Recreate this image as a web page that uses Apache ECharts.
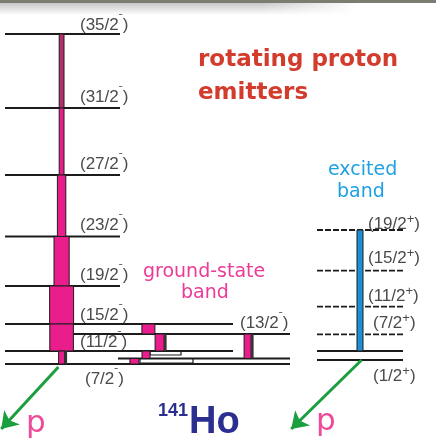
<!DOCTYPE html>
<html>
<head>
<meta charset="utf-8">
<script src="https://cdn.jsdelivr.net/npm/echarts@6/dist/echarts.min.js"></script>
<style>
html, body { margin: 0; padding: 0; background: #fff; }
#chart { width: 436px; height: 445px; }
</style>
</head>
<body>
<div id="chart"></div>
<script>
// ---- Level scheme of 141Ho (energies in keV above the 7/2- state) ----
// ground-state band, from the top down
const gsSpins  = ['35/2', '31/2', '27/2', '23/2', '19/2', '15/2', '11/2', '7/2'];
const gsEnergy = [3300, 2560, 1890, 1275, 780, 400, 130, 0];
// relative gamma intensity of each in-band step (upper level -> next level)
const gsIntensity = [1.2, 1.2, 2.1, 3.8, 6.0, 5.9, 1.5];

// side levels feeding into the band bottom
const sideSpins  = ['13/2', '9/2'];
const sideEnergy = [300, 55];
// side transitions: [from energy, to energy, intensity]
const sideFrom = [400, 300, 130, 55, 300];
const sideTo   = [300, 130, 55, 0, 55];
const sideIntensity = [3.25, 2.25, 2.0, 2.25, 1.75];

// excited band (positive parity)
const exSpins  = ['19/2', '15/2', '11/2', '7/2', '', '1/2'];
const exEnergy = [1340, 933, 573, 297, 130, 40];
const exIntensity = 1.5;

// ---- drawing layout (axis units: x 0..109, energy in keV) ----
const gsSpan = [[1.25, 30], [1.25, 30], [1.25, 30], [1.25, 30], [1.25, 30], [1.25, 58.25], [1.25, 58.25], [1.25, 72.5]];
const sideSpan = [[18, 72.5], [29.5, 72.5]];
const exSpan = [79.25, 100.75];
const gsBarX = 15.4;
const sideBarX = [37.1, 39.9, 36.5, 33.6, 61.9];
const exBarX = 90;
// thin shelves drawn under the lowest levels
const shelves = [[37.5, 45.25, 130, 90], [35, 48.25, 55, 10]];
// label anchors [x, energy]
const gsLabelPos = [[20, 3400], [20, 2680], [20, 2015], [20, 1400], [20, 900], [20, 505], [20, 230], [21.25, -135]];
const sideLabelPos = [[60, 420]];
const exLabelPos = [[92, 1410], [92, 1070], [92, 690], [93.25, 420], null, [93.25, -110]];
// proton decay arrows [[x, E] start, [x, E] end]
const protonDecays = [[[14.6, -30], [0.3, -650]], [[90.4, 40], [72.8, -650]]];

const MAGENTA = '#e91e8c', MAGENTA_DARK = '#b3306c', BLUE = '#1c8fd6', INK = '#1c1c1c';

// level lines
const levelData = [];
gsEnergy.forEach((e, i) => levelData.push([gsSpan[i][0], gsSpan[i][1], e, 0]));
sideEnergy.forEach((e, i) => levelData.push([sideSpan[i][0], sideSpan[i][1], e, 0]));
exEnergy.forEach((e, i) => levelData.push([exSpan[0], exSpan[1], e, exSpins[i] && i < 4 ? 1 : 0]));

// transitions: [xCenter, width, Etop, Ebottom, colourIndex, shaded]
const transData = [];
for (let i = 0; i < gsIntensity.length; i++) {
  transData.push([gsBarX, gsIntensity[i], gsEnergy[i], gsEnergy[i + 1], i === 0 ? 1 : 0, i === 6 ? 1 : 0]);
}
for (let i = 0; i < sideFrom.length; i++) {
  transData.push([sideBarX[i], sideIntensity[i], sideFrom[i], sideTo[i], 0, (i === 1 || i === 4) ? 1 : 0]);
}
transData.push([exBarX, exIntensity, exEnergy[0], exEnergy[4], 2, 0]);
const barColours = [MAGENTA, MAGENTA_DARK, BLUE];

// spin/parity labels: [x, E, text, parity]
const labelData = [];
gsSpins.forEach((s, i) => labelData.push([gsLabelPos[i][0], gsLabelPos[i][1], s, '-']));
labelData.push([sideLabelPos[0][0], sideLabelPos[0][1], sideSpins[0], '-']);
exSpins.forEach((s, i) => { if (s) labelData.push([exLabelPos[i][0], exLabelPos[i][1], s, '+']); });

const chart = echarts.init(document.getElementById('chart'), null, { renderer: 'canvas' });

const labelFont = '"Liberation Sans", Arial, sans-serif';
const comic = '"Comic Sans MS", "DejaVu Sans", sans-serif';

chart.setOption({
  animation: false,
  backgroundColor: '#fff',
  grid: { left: 0, right: 0, top: 0, bottom: 0 },
  xAxis: { type: 'value', min: 0, max: 109, show: false },
  yAxis: { type: 'value', min: -810, max: 3640, show: false },
  graphic: [
    // window edge with a soft shadow
    { type: 'rect', left: 0, top: 0, shape: { width: 436, height: 3 }, style: { fill: '#7a7d72' }, z: 10 },
    { type: 'rect', left: 0, top: 3, shape: { width: 436, height: 12 },
      style: { fill: new echarts.graphic.LinearGradient(0, 0, 0, 1, [
        { offset: 0, color: 'rgba(0,0,0,0.22)' }, { offset: 1, color: 'rgba(0,0,0,0)' }]) }, z: 10 },
    { type: 'rect', left: 0, top: 3, shape: { width: 436, height: 12 },
      style: { fill: new echarts.graphic.LinearGradient(0, 0, 1, 0, [
        { offset: 0, color: 'rgba(255,255,255,0)' }, { offset: 0.6, color: 'rgba(255,255,255,0)' },
        { offset: 0.82, color: 'rgba(255,255,255,1)' }, { offset: 1, color: 'rgba(255,255,255,1)' }]) }, z: 11 },
    { type: 'text', left: 198, top: 49, style: { text: 'rotating proton', font: 'bold 23px ' + comic, fill: '#d33b2c' } },
    { type: 'text', left: 198, top: 82, style: { text: 'emitters', font: 'bold 23px ' + comic, fill: '#d33b2c' } },
    { type: 'text', left: 143, top: 263, style: { text: 'ground-state', font: '19px ' + comic, fill: '#ec3a96' } },
    { type: 'text', left: 181, top: 284, style: { text: 'band', font: '19px ' + comic, fill: '#ec3a96' } },
    { type: 'text', left: 328, top: 161, style: { text: 'excited', font: '19px ' + comic, fill: '#1fa0e0' } },
    { type: 'text', left: 337, top: 183, style: { text: 'band', font: '19px ' + comic, fill: '#1fa0e0' } },
    { type: 'text', left: 158, top: 402, style: { text: '141', font: 'bold 18px ' + labelFont, fill: '#2b2f8f' } },
    { type: 'text', left: 189, top: 404, style: { text: 'Ho', font: 'bold 38px ' + labelFont, fill: '#2b2f8f' } },
    { type: 'text', left: 26, top: 408, style: { text: 'p', font: '31px ' + comic, fill: '#ee4a9a' } },
    { type: 'text', left: 316, top: 406, style: { text: 'p', font: '31px ' + comic, fill: '#ee4a9a' } }
  ],
  series: [
    {
      // shelves under the lowest levels
      type: 'custom', coordinateSystem: 'cartesian2d', z: 1,
      data: shelves,
      renderItem: (params, api) => {
        const a = api.coord([api.value(0), api.value(2)]);
        const b = api.coord([api.value(1), api.value(3)]);
        return { type: 'rect', shape: { x: a[0], y: a[1], width: b[0] - a[0], height: b[1] - a[1] },
          style: { fill: '#fff', stroke: INK, lineWidth: 1.2 } };
      }
    },
    {
      type: 'custom', coordinateSystem: 'cartesian2d', z: 2,
      data: levelData,
      renderItem: (params, api) => {
        const a = api.coord([api.value(0), api.value(2)]);
        const b = api.coord([api.value(1), api.value(2)]);
        return { type: 'line', shape: { x1: a[0], y1: a[1], x2: b[0], y2: b[1] },
          style: { stroke: INK, lineWidth: 1.8, lineDash: api.value(3) ? [6, 2] : null } };
      }
    },
    {
      type: 'custom', coordinateSystem: 'cartesian2d', z: 3,
      data: transData,
      renderItem: (params, api) => {
        const xc = api.value(0), w = api.value(1);
        const a = api.coord([xc - w / 2, api.value(2)]);
        const b = api.coord([xc + w / 2, api.value(3)]);
        const children = [{ type: 'rect', shape: { x: a[0], y: a[1], width: b[0] - a[0], height: b[1] - a[1] },
          style: { fill: barColours[api.value(4)], stroke: INK, lineWidth: 1 } }];
        if (api.value(5)) {
          children.push({ type: 'rect', shape: { x: b[0], y: a[1], width: 2.5, height: b[1] - a[1] },
            style: { fill: '#333' } });
        }
        return { type: 'group', children };
      }
    },
    {
      type: 'custom', coordinateSystem: 'cartesian2d', z: 4,
      data: labelData,
      renderItem: (params, api) => {
        const p = api.coord([api.value(0), api.value(1)]);
        const d = labelData[params.dataIndex];
        const sup = d[3] === '+' ? '+' : '\u02C9';
        return { type: 'text', x: p[0], y: p[1],
          style: { text: '{a|(' + d[2] + '}{s|' + sup + '}{a|)}', verticalAlign: 'middle', align: 'left',
            rich: {
              a: { font: '17px ' + labelFont, fill: '#4b4b4b', lineHeight: 20, verticalAlign: 'bottom' },
              s: { font: (d[3] === '+' ? '13px ' : '12px ') + labelFont, fill: '#4b4b4b', lineHeight: 20, verticalAlign: 'top' }
            } } };
      }
    },
    {
      type: 'lines', coordinateSystem: 'cartesian2d', z: 5,
      symbol: ['none', 'arrow'], symbolSize: 16,
      lineStyle: { color: '#1b9e3e', width: 3, opacity: 1 },
      data: protonDecays.map(c => ({ coords: c }))
    }
  ]
});
</script>
</body>
</html>
